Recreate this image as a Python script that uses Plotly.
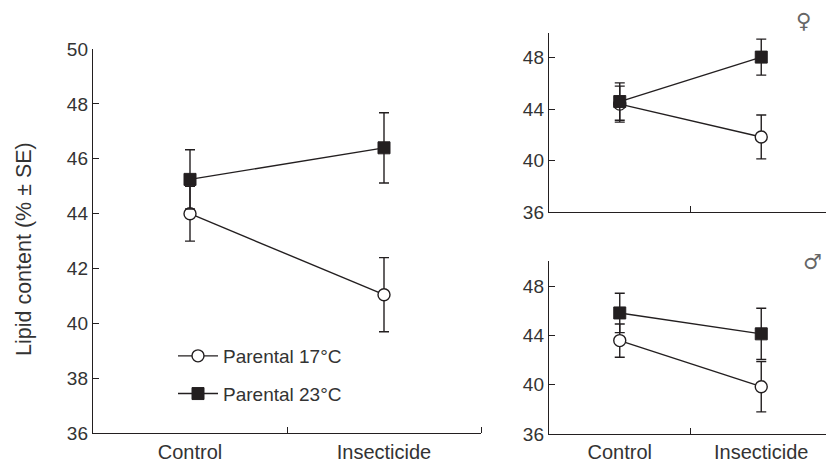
import plotly.graph_objects as go

categories = ["Control", "Insecticide"]
series_names = ["Parental 17°C", "Parental 23°C"]

# Combined (left panel)
all_p17 = [44.0, 41.05]
all_p17_se = [1.0, 1.35]
all_p23 = [45.25, 46.4]
all_p23_se = [1.08, 1.28]

# Females (top right)
fem_p17 = [44.4, 41.85]
fem_p17_se = [1.4, 1.7]
fem_p23 = [44.6, 48.05]
fem_p23_se = [1.45, 1.4]

# Males (bottom right)
mal_p17 = [43.6, 39.85]
mal_p17_se = [1.35, 2.05]
mal_p23 = [45.85, 44.15]
mal_p23_se = [1.6, 2.08]

y_ticks_main = [36, 38, 40, 42, 44, 46, 48, 50]
y_ticks_small = [36, 40, 44, 48]
y_title = "Lipid content (% ± SE)"

INK = "#231f20"
TXT = "#333333"
FONT = "Liberation Sans, Arial, sans-serif"

xpos = list(range(len(categories)))

fig = go.Figure()

panels = [
    ("x", "y", all_p17, all_p17_se, all_p23, all_p23_se, True),
    ("x2", "y2", fem_p17, fem_p17_se, fem_p23, fem_p23_se, False),
    ("x3", "y3", mal_p17, mal_p17_se, mal_p23, mal_p23_se, False),
]

for xa, ya, p17, s17, p23, s23, show in panels:
    fig.add_trace(go.Scatter(
        x=xpos, y=p17, xaxis=xa, yaxis=ya, mode="lines+markers",
        name=series_names[0], legendgroup="a", showlegend=show,
        line=dict(color=INK, width=1.4),
        marker=dict(symbol="circle", size=12, color="white", line=dict(color=INK, width=1.4)),
        error_y=dict(type="data", array=s17, visible=True, color=INK, thickness=1.4, width=5),
    ))
    fig.add_trace(go.Scatter(
        x=xpos, y=p23, xaxis=xa, yaxis=ya, mode="lines+markers",
        name=series_names[1], legendgroup="b", showlegend=show,
        line=dict(color=INK, width=1.4),
        marker=dict(symbol="square", size=12, color=INK, line=dict(color=INK, width=1)),
        error_y=dict(type="data", array=s23, visible=True, color=INK, thickness=1.4, width=5),
    ))

W, H = 834, 465
OFF = 8  # page body margin


def xd(a, b):
    return [(a - OFF) / W, (b - OFF) / W]


def yd(top, bottom):
    return [(H - (bottom - OFF)) / H, (H - (top - OFF)) / H]


def px(x):
    return (x - OFF) / W


def py(y):
    return (H - (y - OFF)) / H


common_x = dict(
    range=[-0.5, 1.5], showline=True, linecolor=INK, linewidth=1.4,
    showgrid=False, zeroline=False, ticks="", automargin=False,
    tickmode="array", tickvals=xpos, ticktext=categories,
    tickfont=dict(family=FONT, size=20, color=TXT),
    minor=dict(tickmode="array", tickvals=[0.5, 1.5], ticks="inside",
               ticklen=6, tickwidth=1.4, tickcolor=INK, showgrid=False),
)
common_y = dict(
    range=[36, 50], showline=True, linecolor=INK, linewidth=1.4,
    showgrid=False, zeroline=False, ticks="inside", ticklen=6, automargin=False,
    tickwidth=1.4, tickcolor=INK, tickmode="array",
    tickfont=dict(family=FONT, size=19, color=TXT),
)

fig.update_layout(
    template="none",
    width=W, height=H, margin=dict(l=0, r=0, t=0, b=0, autoexpand=False),
    paper_bgcolor="white", plot_bgcolor="white",
    font=dict(family=FONT, color=TXT),
    xaxis=dict(common_x, domain=xd(93, 481), anchor="y"),
    yaxis=dict(common_y, domain=yd(49, 433.3), anchor="x", tickvals=y_ticks_main),
    xaxis2=dict(common_x, domain=xd(549, 832), anchor="y2", showticklabels=False),
    yaxis2=dict(common_y, domain=yd(33.3, 212.3), anchor="x2", tickvals=y_ticks_small, range=[36, 49.9]),
    xaxis3=dict(common_x, domain=xd(549, 832), anchor="y3"),
    yaxis3=dict(common_y, domain=yd(260.7, 434), anchor="x3", tickvals=y_ticks_small, range=[36, 50.1]),
    legend=dict(x=px(173), y=py(337), xanchor="left", yanchor="top",
                bgcolor="rgba(0,0,0,0)", tracegroupgap=10, itemwidth=40,
                font=dict(family=FONT, size=19, color=TXT)),
    showlegend=True,
)

fig.add_annotation(text=y_title, x=px(24), y=py(249), xref="paper", yref="paper",
                   xanchor="center", yanchor="middle", textangle=-90,
                   showarrow=False, font=dict(family=FONT, size=21.5, color=TXT))
fig.add_annotation(text="♀", x=px(803), y=py(21), xref="paper", yref="paper",
                   xanchor="center", yanchor="middle",
                   showarrow=False, font=dict(family="DejaVu Sans", size=21, color="#666666"))
fig.add_annotation(text="♂", x=px(812), y=py(262), xref="paper", yref="paper",
                   xanchor="center", yanchor="middle",
                   showarrow=False, font=dict(family="DejaVu Sans", size=21, color="#666666"))

fig.write_html("out.html")
